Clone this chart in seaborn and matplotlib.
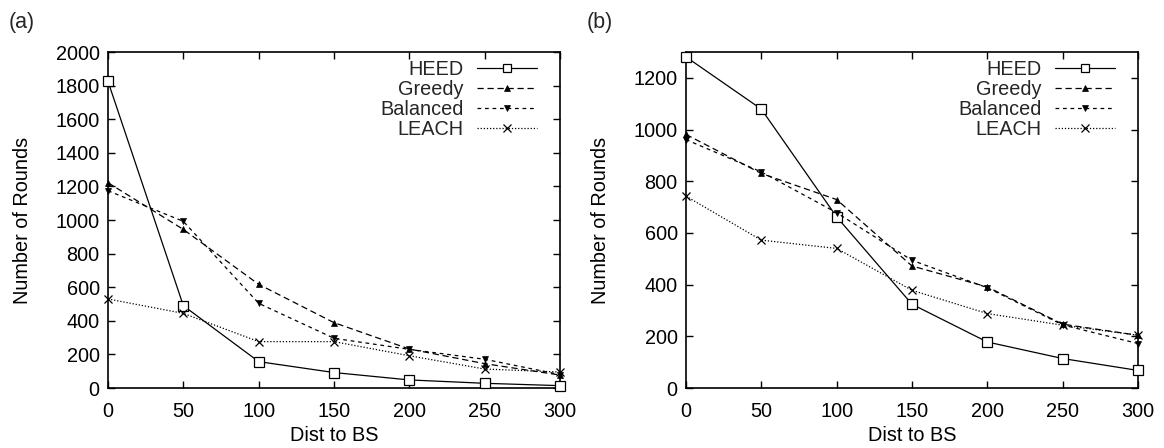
import matplotlib
matplotlib.use("Agg")
import matplotlib.pyplot as plt
import seaborn as sns
import pandas as pd
from matplotlib.lines import Line2D

dist = [0, 50, 100, 150, 200, 250, 300]
methods = ["HEED", "Greedy", "Balanced", "LEACH"]

# Panel (a)
heed_a = [1825, 490, 157, 92, 48, 28, 14]
greedy_a = [1222, 944, 617, 389, 232, 145, 77]
balanced_a = [1174, 992, 504, 296, 230, 171, 80]
leach_a = [530, 444, 276, 276, 192, 113, 95]

# Panel (b)
heed_b = [1281, 1079, 662, 324, 178, 114, 68]
greedy_b = [981, 830, 729, 472, 391, 247, 204]
balanced_b = [961, 836, 678, 494, 388, 244, 172]
leach_b = [742, 572, 540, 378, 288, 243, 204]

yticks_a = [0, 200, 400, 600, 800, 1000, 1200, 1400, 1600, 1800, 2000]
yticks_b = [0, 200, 400, 600, 800, 1000, 1200]


def long_frame(series):
    rows = []
    for name, vals in zip(methods, series):
        for d, v in zip(dist, vals):
            rows.append({"Dist to BS": d, "Number of Rounds": v, "Method": name})
    return pd.DataFrame(rows)


df_a = long_frame([heed_a, greedy_a, balanced_a, leach_a])
df_b = long_frame([heed_b, greedy_b, balanced_b, leach_b])

sns.set_theme(style="white")
plt.rcParams["font.family"] = ["Liberation Sans", "DejaVu Sans"]

FS = 14.3

styles = {
    "HEED": dict(marker="s", ms=6.5, mfc="white", mec="black", mew=0.9, ls="-"),
    "Greedy": dict(marker="^", ms=5, mfc="black", mec="black", mew=0.5, ls=(0, (5, 3))),
    "Balanced": dict(marker="v", ms=5, mfc="black", mec="black", mew=0.5, ls=(0, (3, 3))),
    "LEACH": dict(marker="x", ms=6, mfc="black", mec="black", mew=0.9, ls=(0, (1, 1.5))),
}

fig = plt.figure(figsize=(11.64, 4.48), dpi=100)
ax_a = fig.add_axes([108 / 1164, 1 - 388 / 448, (560 - 108) / 1164, (388 - 52) / 448])
ax_b = fig.add_axes([686 / 1164, 1 - 388 / 448, (1138 - 686) / 1164, (388 - 52) / 448])


def draw(ax, df, ylim, yticks, tag):
    for name in methods:
        st = styles[name]
        sub = df[df["Method"] == name]
        sns.lineplot(data=sub, x="Dist to BS", y="Number of Rounds", ax=ax,
                     color="black", lw=0.9, linestyle=st["ls"], marker=st["marker"],
                     markersize=st["ms"], markerfacecolor=st["mfc"],
                     markeredgecolor=st["mec"], markeredgewidth=st["mew"],
                     legend=False, clip_on=False, zorder=3)
    ax.set_xlim(0, 300)
    ax.set_ylim(*ylim)
    ax.set_xticks(dist)
    ax.set_yticks(yticks)
    ax.tick_params(axis="both", which="both", direction="in", length=5, width=1,
                   top=True, right=True, bottom=True, left=True,
                   labelsize=FS, colors="black", pad=6)
    ax.tick_params(axis="x", pad=10)
    for sp in ax.spines.values():
        sp.set_color("black")
        sp.set_linewidth(1.2)
        sp.set_visible(True)
    ax.set_xlabel("Dist to BS", fontsize=FS, labelpad=4, color="black")
    ax.set_ylabel("Number of Rounds", fontsize=FS, labelpad=17, color="black")
    ax.text(-0.219, 1.089, tag, transform=ax.transAxes, fontsize=15.5,
            ha="left", va="center")
    handles = []
    for name in methods:
        st = styles[name]
        handles.append(Line2D([0], [0], color="black", lw=0.9, linestyle=st["ls"],
                              marker=st["marker"], markersize=st["ms"] - 0.5,
                              markerfacecolor=st["mfc"], markeredgecolor=st["mec"],
                              markeredgewidth=st["mew"]))
    ax.legend(handles, methods, loc="upper right", bbox_to_anchor=(0.949, 0.976),
              frameon=False, fontsize=FS, markerfirst=False, handlelength=3.0,
              handletextpad=0.7, labelspacing=0.05, borderaxespad=0.0, borderpad=0.0)


draw(ax_a, df_a, (0, 2000), yticks_a, "(a)")
draw(ax_b, df_b, (0, 1300), yticks_b, "(b)")

fig.savefig("out.png", dpi=100)
